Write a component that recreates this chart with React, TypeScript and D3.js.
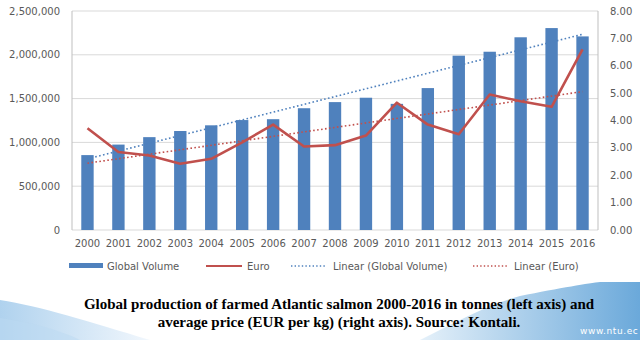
import React from "react";
import * as d3 from "d3";

const years = ["2000","2001","2002","2003","2004","2005","2006","2007","2008","2009","2010","2011","2012","2013","2014","2015","2016"];
const volume = [855000, 975000, 1060000, 1130000, 1195000, 1255000, 1265000, 1390000, 1460000, 1510000, 1440000, 1620000, 1990000, 2035000, 2200000, 2305000, 2210000];
const euro = [3.72, 2.85, 2.72, 2.42, 2.6, 3.2, 3.85, 3.05, 3.1, 3.45, 4.65, 3.85, 3.5, 4.95, 4.7, 4.5, 6.6];
const leftTicks = [0, 500000, 1000000, 1500000, 2000000, 2500000];
const rightTicks = [0, 1, 2, 3, 4, 5, 6, 7, 8];
const legendLabels = ["Global Volume", "Euro", "Linear (Global Volume)", "Linear (Euro)"];
const captionLines = [
  "Global production of farmed Atlantic salmon 2000-2016 in tonnes (left axis) and",
  "average price (EUR per kg) (right axis). Source: Kontali.",
];

const W = 640, H = 340;
const M = { left: 72, right: 598, top: 11, bottom: 230 };
const BLUE = "#4F81BD";
const RED = "#C0504D";
const TXT = "#595959";
const FONT = "'DejaVu Sans', Verdana, sans-serif";

function linreg(vals: number[]) {
  const n = vals.length;
  const xs = vals.map((_, i) => i);
  const mx = d3.mean(xs)!, my = d3.mean(vals)!;
  let num = 0, den = 0;
  xs.forEach((x, i) => { num += (x - mx) * (vals[i] - my); den += (x - mx) ** 2; });
  const b = num / den, a = my - b * mx;
  return [a, a + b * (n - 1)];
}

export default function App() {
  const x = d3.scaleBand<string>().domain(years).range([M.left, M.right]).paddingInner(0.6).paddingOuter(0.3);
  const xc = (i: number) => x(years[i])! + x.bandwidth() / 2;
  const yL = d3.scaleLinear().domain([0, 2500000]).range([M.bottom, M.top]);
  const yR = d3.scaleLinear().domain([0, 8]).range([M.bottom, M.top]);
  const fmtL = d3.format(",");
  const fmtR = d3.format(".2f");
  const euroLine = d3.line<number>().x((_, i) => xc(i)).y(d => yR(d));
  const [va, vb] = linreg(volume);
  const [ea, eb] = linreg(euro);
  const n = years.length - 1;

  return (
    <svg width={W} height={H} style={{ position: "absolute", left: 0, top: 0, background: "#fff" }}>
      <defs>
        <linearGradient id="swL" x1="0" y1="0" x2="1" y2="0">
          <stop offset="0" stopColor="#9cc7ea" />
          <stop offset="1" stopColor="#eef5fc" />
        </linearGradient>
        <linearGradient id="swR" x1="0" y1="0" x2="1" y2="0">
          <stop offset="0" stopColor="#e2eff9" />
          <stop offset="1" stopColor="#5a9fd6" />
        </linearGradient>
      </defs>
      <rect x={0} y={0} width={W} height={H} fill="#fff" />
      {/* decorative swooshes */}
      <path d="M0,300 C40,306 90,322 150,340 L0,340 Z" fill="url(#swL)" opacity={0.8} />
      <path d="M0,318 C30,322 60,330 80,340 L0,340 Z" fill="#bcd9f1" opacity={0.5} />
      <path d="M520,296 C560,288 590,283 600,282 L640,282 L640,340 L420,340 C460,320 490,304 520,296 Z" fill="url(#swR)" opacity={0.9} />

      {/* gridlines */}
      {leftTicks.map(t => (
        <line key={t} x1={M.left} x2={M.right} y1={yL(t)} y2={yL(t)} stroke="#d9d9d9" strokeWidth={1} />
      ))}
      <line x1={M.left} x2={M.left} y1={M.top} y2={M.bottom} stroke="#bfbfbf" />
      <line x1={M.right} x2={M.right} y1={M.top} y2={M.bottom} stroke="#bfbfbf" />

      {/* bars */}
      {volume.map((v, i) => (
        <rect key={i} x={x(years[i])} y={yL(v)} width={x.bandwidth()} height={M.bottom - yL(v)} fill={BLUE} />
      ))}

      {/* trendlines */}
      <line x1={xc(0)} x2={xc(n)} y1={yL(va)} y2={yL(vb)} stroke={BLUE} strokeWidth={1.6} strokeDasharray="1.6,2.4" />
      <line x1={xc(0)} x2={xc(n)} y1={yR(ea)} y2={yR(eb)} stroke={RED} strokeWidth={1.6} strokeDasharray="1.6,2.4" />

      {/* euro line */}
      <path d={euroLine(euro)!} fill="none" stroke={RED} strokeWidth={2.6} strokeLinejoin="round" />

      {/* axis labels */}
      {leftTicks.map(t => (
        <text key={t} x={60} y={yL(t)} dy="0.35em" textAnchor="end" fontSize={10} fontFamily={FONT} fill={TXT}>{fmtL(t)}</text>
      ))}
      {rightTicks.map(t => (
        <text key={t} x={610} y={yR(t)} dy="0.35em" textAnchor="start" fontSize={10} fontFamily={FONT} fill={TXT}>{fmtR(t)}</text>
      ))}
      {years.map((yv, i) => (
        <text key={yv} x={xc(i)} y={247} textAnchor="middle" fontSize={10} fontFamily={FONT} fill={TXT}>{yv}</text>
      ))}

      {/* legend */}
      <g fontSize={10} fontFamily={FONT} fill={TXT}>
        <rect x={69} y={263} width={34} height={5} fill={BLUE} />
        <text x={107} y={269.5}>{legendLabels[0]}</text>
        <line x1={206} x2={242} y1={266} y2={266} stroke={RED} strokeWidth={2} />
        <text x={247} y={269.5}>{legendLabels[1]}</text>
        <line x1={291} x2={327} y1={266} y2={266} stroke={BLUE} strokeWidth={1.4} strokeDasharray="1.4,2.2" />
        <text x={333} y={269.5}>{legendLabels[2]}</text>
        <line x1={473} x2={509} y1={266} y2={266} stroke={RED} strokeWidth={1.4} strokeDasharray="1.4,2.2" />
        <text x={514} y={269.5}>{legendLabels[3]}</text>
      </g>

      {/* caption */}
      {captionLines.map((l, i) => (
        <text key={i} x={339} y={309 + i * 18} textAnchor="middle" fontSize={15} fontWeight="bold"
          fontFamily="'Liberation Serif', 'Times New Roman', serif" fill="#000">{l}</text>
      ))}
      <text x={580} y={334} fontSize={9} fontFamily={FONT} fill="#ffffff" letterSpacing={0.6}>www.ntu.ec</text>
    </svg>
  );
}
